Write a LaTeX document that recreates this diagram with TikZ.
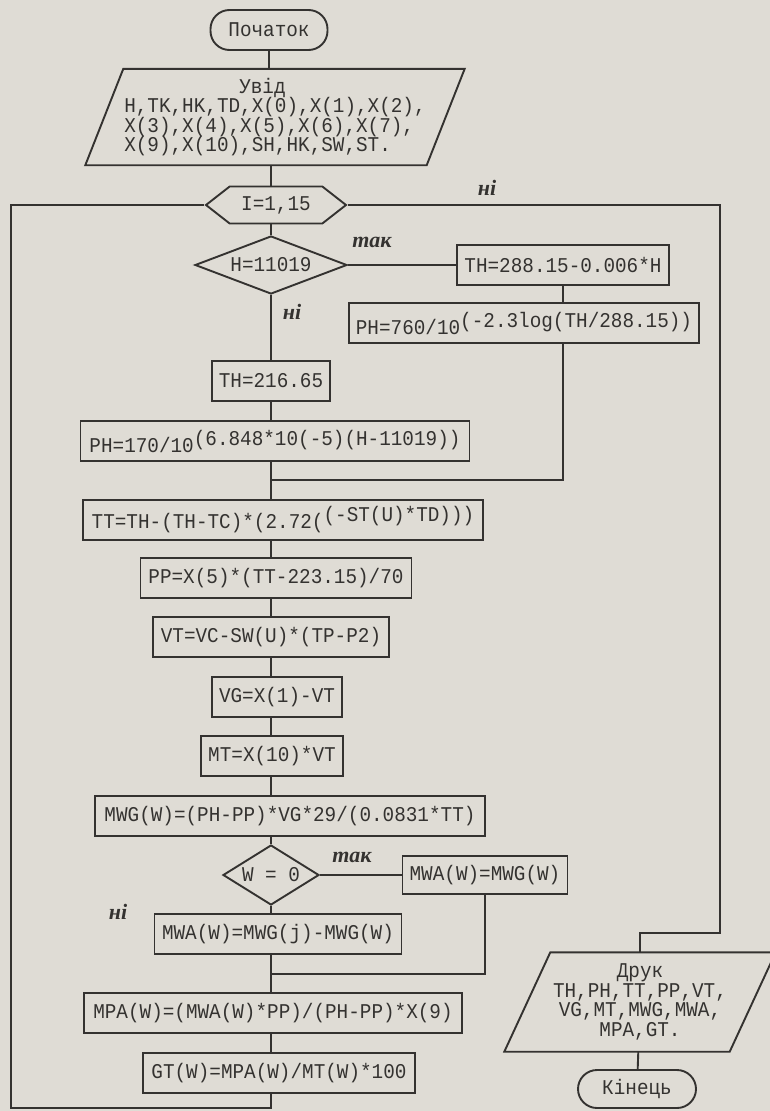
\documentclass[tikz,border=0pt]{standalone}
\usepackage{fontspec}
\setmainfont{Liberation Mono}[FakeStretch=0.92]
\newfontfamily\markfont{Liberation Serif}
\usepackage{xcolor}
\usetikzlibrary{shapes.geometric, shapes.symbols}
\definecolor{paper}{RGB}{223,220,213}
\definecolor{ink}{RGB}{52,50,48}
\newcommand{\expo}[1]{\raisebox{7pt}{#1}}
\newcommand{\flowsize}{\fontsize{21}{19.5}\selectfont\lineskiplimit-20pt\relax}
\newcommand{\marksize}{\markfont\bfseries\itshape\fontsize{22}{22}\selectfont}
\tikzset{
  block/.style={draw=ink, line width=1.9pt, align=center, minimum height=40pt, inner xsep=7pt, inner ysep=2pt, text=ink},
  terminal/.style={block, rounded corners=19pt},
  cond/.style={draw=ink, line width=1.9pt, diamond, inner sep=0pt, text=ink},
  loopbox/.style={draw=ink, line width=1.9pt, signal, signal to=west and east, signal pointer angle=76, inner sep=0pt, text=ink},
  iotext/.style={inner sep=0pt, text=ink},
  link/.style={draw=ink, line width=1.9pt},
  note/.style={font=\marksize, text=ink},
  every node/.style={font=\flowsize}
}

\begin{document}
\begin{tikzpicture}[x=1pt,y=-1pt]
    \fill[paper] (0,0) rectangle (770,1111);
    \useasboundingbox (0,0) rectangle (770,1111);
    \coordinate (spine) at (271,0);
    \node[terminal, minimum width=117pt] (start) at (269,30) {Початок};
    \node[iotext, align=left, minimum width=341pt, minimum height=96pt] (input) at (275,117)
        {\hspace*{115pt}Увід\\H,TK,HK,TD,X(0),X(1),X(2),\\X(3),X(4),X(5),X(6),X(7),\\X(9),X(10),SH,HK,SW,ST.};
    \draw[link] ([xshift=19pt]input.north west) -- ([xshift=19pt]input.north east)
        -- ([xshift=-19pt]input.south east) -- ([xshift=-19pt]input.south west) -- cycle;
    \node[loopbox, minimum width=140pt, minimum height=37pt] (loop) at (276,205) {I=1,15};
    \node[cond, aspect=2.6, minimum width=152pt, minimum height=58pt] (hcheck) at (271,265) {H=11019};
    \node[block, minimum width=212pt] (th1) at (563,265) {TH=288.15-0.006*H};
    \node[block, minimum width=346pt] (ph1) at (524,323) {PH=760/10\expo{(-2.3log(TH/288.15))}};
    \node[block, minimum width=116pt] (th2) at (271,381) {TH=216.65};
    \node[block, minimum width=389pt] (ph2) at (275,441) {PH=170/10\expo{(6.848*10(-5)(H-11019))}};
    \coordinate (join1) at (271,480);
    \node[block, minimum width=400pt] (tt) at (283,520) {TT=TH-(TH-TC)*(2.72(\expo{(-ST(U)*TD)))}};
    \node[block, minimum width=271pt] (pp) at (276,578) {PP=X(5)*(TT-223.15)/70};
    \node[block, minimum width=236pt] (vt) at (271,637) {VT=VC-SW(U)*(TP-P2)};
    \node[block, minimum width=129pt] (vg) at (277,697) {VG=X(1)-VT};
    \node[block, minimum width=142pt] (mt) at (272,756) {MT=X(10)*VT};
    \node[block, minimum width=390pt] (mwg) at (290,816) {MWG(W)=(PH-PP)*VG*29/(0.0831*TT)};
    \node[cond, aspect=1.6, minimum width=96pt, minimum height=60pt] (wcheck) at (271,875) {W = 0};
    \node[block, minimum width=165pt, minimum height=38pt] (mwa1) at (485,875) {MWA(W)=MWG(W)};
    \node[block, minimum width=247pt] (mwa2) at (278,934) {MWA(W)=MWG(j)-MWG(W)};
    \coordinate (join2) at (271,974);
    \node[block, minimum width=378pt] (mpa) at (273,1013) {MPA(W)=(MWA(W)*PP)/(PH-PP)*X(9)};
    \node[block, minimum width=272pt] (gt) at (279,1073) {GT(W)=MPA(W)/MT(W)*100};
    \node[iotext, align=center, minimum width=225pt, minimum height=99pt] (output) at (640,1002)
        {Друк\\TH,PH,TT,PP,VT,\\VG,MT,MWG,MWA,\\MPA,GT.};
    \draw[link] ([xshift=23pt]output.north west) -- ([xshift=23pt]output.north east)
        -- ([xshift=-23pt]output.south east) -- ([xshift=-23pt]output.south west) -- cycle;
    \node[terminal, minimum width=118pt, minimum height=38pt] (stop) at (637,1089) {Кінець};
    \coordinate (exitright) at (720,933);
    \coordinate (loopdown) at (271,1108);
    \coordinate (loopleft) at (11,1108);
    \node[note] (yes1) at (372,242) {так};
    \node[note] (no1) at (487,188) {ні};
    \node[note] (no2) at (292,312) {ні};
    \node[note] (yes2) at (352,857) {так};
    \node[note] (no3) at (118,912) {ні};
    \draw[link] (start) -- (start |- input.north);
    \draw[link] (input.south -| spine) -- (loop.north -| spine);
    \draw[link] (loop.south -| spine) -- (hcheck.north);
    \draw[link] (hcheck) -- (th1);
    \draw[link] (th1.south) -- (th1.south |- ph1.north);
    \draw[link] (ph1.south -| th1) -- (th1 |- join1) -- (join1);
    \draw[link] (hcheck) -- (th2);
    \draw[link] (th2.south) -- (th2.south |- ph2.north);
    \draw[link] (ph2.south -| spine) -- (tt.north -| spine);
    \draw[link] (tt.south -| spine) -- (pp.north -| spine);
    \draw[link] (pp.south -| spine) -- (vt.north -| spine);
    \draw[link] (vt.south -| spine) -- (vg.north -| spine);
    \draw[link] (vg.south -| spine) -- (mt.north -| spine);
    \draw[link] (mt.south -| spine) -- (mwg.north -| spine);
    \draw[link] (mwg.south -| spine) -- (wcheck.north);
    \draw[link] (wcheck) -- (mwa1);
    \draw[link] (mwa1.south) -- (mwa1.south |- join2) -- (join2);
    \draw[link] (wcheck.south) -- (wcheck.south |- mwa2.north);
    \draw[link] (mwa2.south -| spine) -- (mpa.north -| spine);
    \draw[link] (mpa.south -| spine) -- (gt.north -| spine);
    \draw[link] (gt.south -| spine) -- (loopdown) -- (loopleft) |- (loop.west);
    \draw[link] (loop.east) -| (exitright) -| (output.north);
    \draw[link] (output) -- (stop);
\end{tikzpicture}
\end{document}
